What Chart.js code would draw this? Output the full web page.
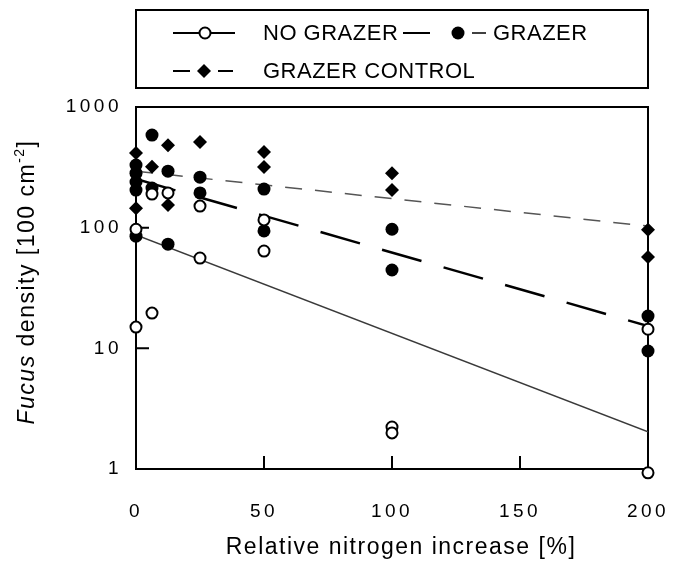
<!DOCTYPE html>
<html>
<head>
<meta charset="utf-8">
<script src="https://cdn.jsdelivr.net/npm/chart.js@4.4.1/dist/chart.umd.min.js"></script>
<style>
  html, body { margin: 0; padding: 0; background: #fff; }
  #wrap { width: 673px; height: 563px; position: relative; }
</style>
</head>
<body>
<div id="wrap"><canvas id="fucusChart"></canvas></div>
<script>
// axis ticks
const xTicks = [0, 50, 100, 150, 200];
const yTicks = [1, 10, 100, 1000];

// NO GRAZER (open circles)
const noGrazerX = [0, 0, 6.25, 6.25, 12.5, 25, 25, 50, 50, 100, 100, 200, 200];
const noGrazerY = [97, 15, 190, 19.6, 194, 151, 56, 116, 64, 2.23, 1.99, 14.4, 0.93];

// GRAZER (filled circles)
const grazerX = [0, 0, 0, 0, 0, 6.25, 6.25, 12.5, 12.5, 25, 25, 50, 50, 100, 100, 200, 200];
const grazerY = [330, 283, 239, 205, 85, 585, 213, 294, 73, 262, 194, 209, 94, 97, 44.6, 18.5, 9.5];

// GRAZER CONTROL (diamonds)
const controlX = [0, 0, 6.25, 12.5, 12.5, 25, 50, 50, 100, 100, 200, 200];
const controlY = [415, 145, 320, 483, 154, 512, 423, 318, 283, 205, 96, 57];

// fitted lines, ends at x = 0 and x = 200
const fitX = [0, 200];
const noGrazerFit = [87, 2.03];
const grazerFit = [253, 15.3];
const controlFit = [294, 103];

const FONT = "'Liberation Sans', Arial, Helvetica, sans-serif";
const toPoints = (xs, ys) => xs.map((x, i) => ({ x: x, y: ys[i] }));

const paperChrome = {
    id: 'paperChrome',
    beforeDraw(chart) {
        chart.ctx.letterSpacing = '3.5px'; // wide tracking on the tick numbers
    },
    beforeDatasetsDraw(chart) {
        const { ctx, chartArea: a, scales: { x, y } } = chart;
        ctx.save();
        ctx.strokeStyle = '#000';
        ctx.lineWidth = 2;
        ctx.strokeRect(a.left, a.top, a.right - a.left, a.bottom - a.top);
        // inward tick marks
        ctx.beginPath();
        yTicks.slice(1, -1).forEach(v => {
            const py = y.getPixelForValue(v);
            ctx.moveTo(a.left, py);
            ctx.lineTo(a.left + 13, py);
        });
        xTicks.slice(1, -1).forEach(v => {
            const px = x.getPixelForValue(v);
            ctx.moveTo(px, a.bottom);
            ctx.lineTo(px, a.bottom - 13);
        });
        ctx.stroke();
        ctx.restore();
    },
    afterDraw(chart) {
        const { ctx, chartArea: a } = chart;
        ctx.save();
        ctx.fillStyle = '#000';
        ctx.strokeStyle = '#000';

        // legend box
        ctx.lineWidth = 2;
        ctx.strokeRect(a.left, 10, a.right - a.left, 78);

        const seg = (x1, x2, y, w) => {
            ctx.lineWidth = w;
            ctx.beginPath();
            ctx.moveTo(x1, y);
            ctx.lineTo(x2, y);
            ctx.stroke();
        };
        // row 1: NO GRAZER
        seg(173, 235, 33, 2);
        ctx.beginPath();
        ctx.arc(205, 33, 5.5, 0, Math.PI * 2);
        ctx.fillStyle = '#fff';
        ctx.fill();
        ctx.lineWidth = 2;
        ctx.stroke();
        ctx.fillStyle = '#000';
        // row 1: GRAZER
        seg(403, 430, 33, 2);
        ctx.beginPath();
        ctx.arc(458, 33, 6.5, 0, Math.PI * 2);
        ctx.fill();
        seg(472, 486, 33, 1.5);
        // row 2: GRAZER CONTROL
        seg(173, 190, 71, 2);
        ctx.beginPath();
        ctx.moveTo(204 - 7, 71);
        ctx.lineTo(204, 64);
        ctx.lineTo(204 + 7, 71);
        ctx.lineTo(204, 78);
        ctx.closePath();
        ctx.fill();
        seg(218, 233, 71, 2);

        ctx.letterSpacing = '0.5px';
        ctx.font = '22px ' + FONT;
        ctx.textBaseline = 'middle';
        ctx.textAlign = 'left';
        ctx.fillText('NO GRAZER', 263, 34);
        ctx.fillText('GRAZER', 493, 34);
        ctx.fillText('GRAZER CONTROL', 263, 72);

        // x axis title
        ctx.letterSpacing = '1.5px';
        ctx.font = '23px ' + FONT;
        ctx.textAlign = 'center';
        ctx.fillText('Relative nitrogen increase [%]', 401, 548);

        // y axis title, mixed italic + superscript
        ctx.translate(28, 282);
        ctx.rotate(-Math.PI / 2);
        ctx.textAlign = 'left';
        const parts = [
            { t: 'Fucus', f: 'italic 23px ' + FONT, dy: 0 },
            { t: ' density [100 cm', f: '23px ' + FONT, dy: 0 },
            { t: '-2', f: '14px ' + FONT, dy: -8 },
            { t: ']', f: '23px ' + FONT, dy: 0 }
        ];
        let total = 0;
        parts.forEach(p => { ctx.font = p.f; p.w = ctx.measureText(p.t).width; total += p.w; });
        let cx = -total / 2;
        parts.forEach(p => {
            ctx.font = p.f;
            ctx.fillText(p.t, cx, p.dy);
            cx += p.w;
        });
        ctx.restore();
    }
};

const ctx = document.getElementById('fucusChart').getContext('2d');

new Chart(ctx, {
    type: 'scatter',
    data: {
        datasets: [
            {
                label: 'NO GRAZER',
                data: toPoints(noGrazerX, noGrazerY),
                pointStyle: 'circle',
                pointRadius: 5.5,
                pointBorderWidth: 2,
                pointBorderColor: '#000',
                pointBackgroundColor: '#fff',
                clip: false,
                order: 1
            },
            {
                label: 'GRAZER',
                data: toPoints(grazerX, grazerY),
                pointStyle: 'circle',
                pointRadius: 6.5,
                pointBorderWidth: 0,
                pointBackgroundColor: '#000',
                clip: false,
                order: 2
            },
            {
                label: 'GRAZER CONTROL',
                data: toPoints(controlX, controlY),
                pointStyle: 'rectRot',
                pointRadius: 7,
                pointBorderWidth: 0,
                pointBackgroundColor: '#000',
                clip: false,
                order: 3
            },
            {
                label: 'NO GRAZER fit',
                data: toPoints(fitX, noGrazerFit),
                showLine: true,
                borderColor: '#3a3a3a',
                borderWidth: 1.5,
                pointRadius: 0,
                order: 4
            },
            {
                label: 'GRAZER fit',
                data: toPoints(fitX, grazerFit),
                showLine: true,
                borderColor: '#000',
                borderWidth: 2.5,
                borderDash: [41, 23],
                pointRadius: 0,
                order: 5
            },
            {
                label: 'GRAZER CONTROL fit',
                data: toPoints(fitX, controlFit),
                showLine: true,
                borderColor: '#555',
                borderWidth: 1.5,
                borderDash: [17, 13],
                pointRadius: 0,
                order: 6
            }
        ]
    },
    options: {
        responsive: true,
        maintainAspectRatio: false,
        animation: false,
        devicePixelRatio: 1,
        layout: { padding: { top: 107, right: 25, left: 0, bottom: 0 } },
        plugins: {
            legend: { display: false },
            tooltip: { enabled: false }
        },
        scales: {
            x: {
                type: 'linear',
                min: 0,
                max: 200,
                afterBuildTicks: s => { s.ticks = xTicks.map(v => ({ value: v })); },
                afterFit: s => { s.height = 94; s.paddingLeft = 0; s.paddingRight = 0; },
                grid: { display: false, drawTicks: false },
                border: { display: false },
                ticks: {
                    color: '#000',
                    padding: 31,
                    font: { family: FONT, size: 19 },
                    callback: v => String(v)
                }
            },
            y: {
                type: 'logarithmic',
                min: 1,
                max: 1000,
                afterBuildTicks: s => { s.ticks = yTicks.map(v => ({ value: v })); },
                afterFit: s => { s.width = 136; s.paddingTop = 0; s.paddingBottom = 0; },
                grid: { display: false, drawTicks: false },
                border: { display: false },
                ticks: {
                    color: '#000',
                    padding: 14,
                    font: { family: FONT, size: 19 },
                    callback: v => String(v)
                }
            }
        }
    },
    plugins: [paperChrome]
});
</script>
</body>
</html>
